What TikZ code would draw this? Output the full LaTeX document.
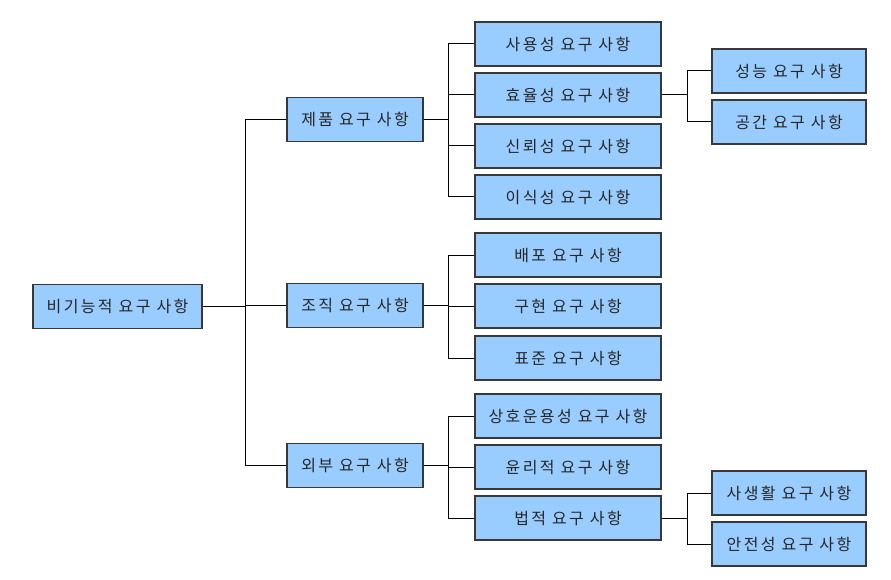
\documentclass[tikz,border=0pt]{standalone}
\usepackage{fontspec}
\newfontfamily\kr[LetterSpace=15]{Noto Sans CJK KR}
\usetikzlibrary{positioning,calc}
\definecolor{boxblue}{HTML}{99CCFF}
\definecolor{boxline}{HTML}{383838}

\begin{document}
\begin{tikzpicture}[x=1pt,y=-1pt,
    req/.style={draw=boxline,fill=boxblue,line width=1.1pt,inner sep=0pt,
      minimum height=44pt,font=\kr\fontsize{16}{18}\selectfont,text=black!85},
    rootbox/.style={req,minimum width=169pt},
    topbox/.style={req,minimum width=136pt},
    midbox/.style={req,minimum width=186pt},
    leafbox/.style={req,minimum width=154pt},
    link/.style={line width=1pt,black}]
  \useasboundingbox (0,0) rectangle (891,580);

  % root
  \node[rootbox] (root) at (117.5,306.5) {비기능적 요구 사항};

  % first level
  \node[topbox] (prod) at (355,119.5) {제품 요구 사항};
  \node[topbox] (org)  at (355,305.5) {조직 요구 사항};
  \node[topbox] (ext)  at (355,465.5) {외부 요구 사항};

  % second level
  \node[midbox] (use)   at (568,44)  {사용성 요구 사항};
  \node[midbox] (eff)   at (568,95)  {효율성 요구 사항};
  \node[midbox] (rel)   at (568,146) {신뢰성 요구 사항};
  \node[midbox] (port)  at (568,197) {이식성 요구 사항};
  \node[midbox] (dep)   at (568,255) {배포 요구 사항};
  \node[midbox] (impl)  at (568,306) {구현 요구 사항};
  \node[midbox] (std)   at (568,358) {표준 요구 사항};
  \node[midbox] (inter) at (568,416) {상호운용성 요구 사항};
  \node[midbox] (eth)   at (568,467) {윤리적 요구 사항};
  \node[midbox] (legal) at (568,518) {법적 요구 사항};

  % third level
  \node[leafbox] (perf)  at (789,71)  {성능 요구 사항};
  \node[leafbox] (space) at (789,122) {공간 요구 사항};
  \node[leafbox] (priv)  at (789,493) {사생활 요구 사항};
  \node[leafbox] (safe)  at (789,544) {안전성 요구 사항};

  % connectors
  \foreach \c in {prod,org,ext}
    \draw[link] (root.east) -- ++(43,0) |- (\c.west);
  \foreach \c in {use,eff,rel,port}
    \draw[link] (prod.east) -- ++(25,0) |- (\c.west);
  \foreach \c in {dep,impl,std}
    \draw[link] (org.east) -- ++(25,0) |- (\c.west);
  \foreach \c in {inter,eth,legal}
    \draw[link] (ext.east) -- ++(25,0) |- (\c.west);
  \foreach \c in {perf,space}
    \draw[link] (eff.east) -- ++(26,0) |- (\c.west);
  \foreach \c in {priv,safe}
    \draw[link] (legal.east) -- ++(26,0) |- (\c.west);
\end{tikzpicture}
\end{document}
